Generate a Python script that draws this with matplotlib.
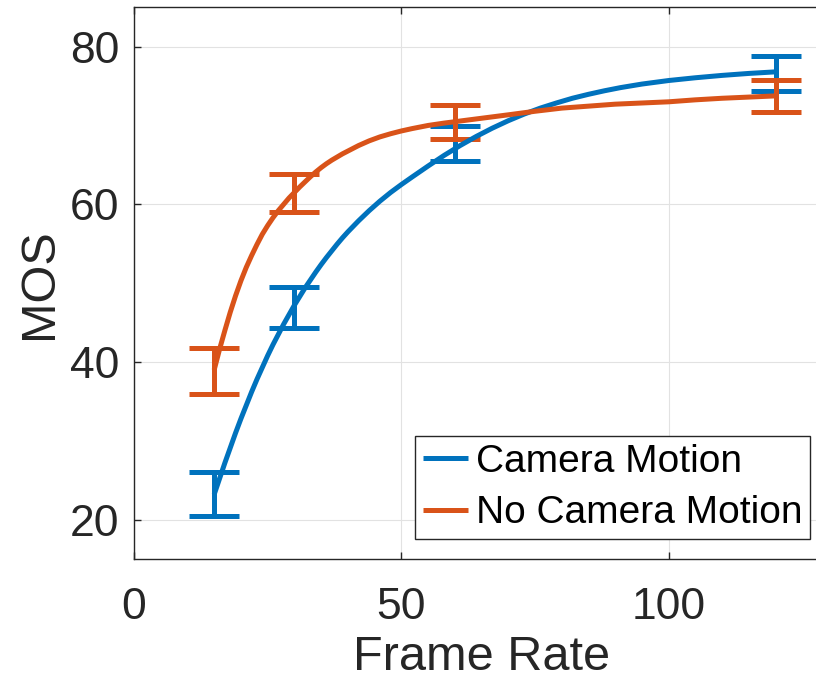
import matplotlib
matplotlib.use("Agg")
import matplotlib.pyplot as plt

plt.rcParams['font.family'] = ['Liberation Sans', 'DejaVu Sans']

# Measured frame rates and mean opinion scores (with error margins)
frame_rates = [15, 30, 60, 120]
mos_camera = [23.25, 46.9, 67.7, 76.6]
err_camera = [2.75, 2.6, 2.2, 2.2]
mos_static = [38.9, 61.45, 70.45, 73.75]
err_static = [2.9, 2.45, 2.15, 2.0]

# Fitted curves
fit_x_camera = [15, 16, 17, 18, 19, 20, 21, 22, 23, 24, 25, 26, 27, 28, 29, 30,
                31, 32, 33, 34, 35, 36, 37, 38, 39, 40, 42, 44, 46, 48, 50, 52,
                55, 58, 61, 64, 67, 70, 73, 76, 79, 82, 85, 88, 91, 95, 100, 105,
                110, 115, 120]
fit_y_camera = [23.2, 25.2, 27.2, 29.1, 31.0, 32.8, 34.5, 36.2, 37.8, 39.3, 40.8,
                42.2, 43.5, 44.8, 46.0, 47.2, 48.3, 49.4, 50.4, 51.4, 52.35, 53.25,
                54.1, 54.95, 55.75, 56.5, 57.9, 59.2, 60.4, 61.5, 62.5, 63.45,
                64.85, 66.2, 67.45, 68.6, 69.65, 70.6, 71.45, 72.2, 72.85, 73.45,
                73.95, 74.4, 74.8, 75.25, 75.7, 76.05, 76.35, 76.6, 76.8]
fit_x_static = [15, 16, 17, 18, 19, 20, 21, 22, 23, 24, 25, 26, 27, 28, 29, 30,
                31, 32, 33, 34, 35, 36, 37, 38, 39, 40, 42, 44, 46, 48, 50, 52,
                55, 58, 62, 66, 70, 75, 80, 85, 90, 95, 100, 105, 110, 115, 120]
fit_y_static = [39.0, 41.6, 44.0, 46.3, 48.4, 50.3, 52.0, 53.5, 54.9, 56.2, 57.3,
                58.3, 59.2, 60.0, 60.8, 61.5, 62.2, 62.85, 63.5, 64.1, 64.65, 65.15,
                65.6, 66.0, 66.4, 66.75, 67.45, 68.05, 68.55, 68.95, 69.3, 69.6,
                70.0, 70.3, 70.65, 71.0, 71.35, 71.8, 72.2, 72.45, 72.7, 72.85,
                73.0, 73.25, 73.45, 73.6, 73.75]

labels = ["Camera Motion", "No Camera Motion"]
blue = "#0072BD"
orange = "#D95319"
ink = "#262626"

fig = plt.figure(figsize=(8.16, 6.86), dpi=100)
ax = fig.add_axes([0.1642, 0.185, 0.8517, 0.8045])

lw = 3.6
ax.errorbar(frame_rates, mos_camera, yerr=err_camera, fmt='none', ecolor=blue,
            elinewidth=lw, capsize=18, capthick=lw, zorder=3)
ax.errorbar(frame_rates, mos_static, yerr=err_static, fmt='none', ecolor=orange,
            elinewidth=lw, capsize=18, capthick=lw, zorder=3)
l1, = ax.plot(fit_x_camera, fit_y_camera, color=blue, lw=lw, zorder=4,
              solid_capstyle='butt', solid_joinstyle='round')
l2, = ax.plot(fit_x_static, fit_y_static, color=orange, lw=lw, zorder=5,
              solid_capstyle='butt', solid_joinstyle='round')

ax.set_xlim(0, 130)
ax.set_ylim(15, 85)
ax.set_xticks([0, 50, 100])
ax.set_yticks([20, 40, 60, 80])
ax.grid(True, color="#e2e2e2", lw=0.8)
ax.set_axisbelow(True)

for s in ax.spines.values():
    s.set_color(ink)
    s.set_linewidth(1.0)
ax.tick_params(axis='both', direction='in', length=5, width=1, color=ink,
               labelcolor=ink, labelsize=32, top=True, right=True)
ax.tick_params(axis='x', pad=20)
ax.tick_params(axis='y', pad=10.5)

ax.set_xlabel("Frame Rate", fontsize=35, color=ink, labelpad=5)
ax.set_ylabel("MOS", fontsize=35, color=ink, labelpad=6)

leg = ax.legend([l1, l2], labels, loc='lower right',
                bbox_to_anchor=(810 / 816, (686 - 539) / 686),
                bbox_transform=fig.transFigure, fontsize=28, frameon=True,
                fancybox=False, edgecolor=ink, framealpha=1,
                handlelength=1.15, handletextpad=0.2, borderpad=0.2,
                labelspacing=0.4, borderaxespad=0)
leg.get_frame().set_linewidth(1.0)
for h in leg.legend_handles:
    h.set_linewidth(3.6)

fig.savefig("out.png", dpi=100)
